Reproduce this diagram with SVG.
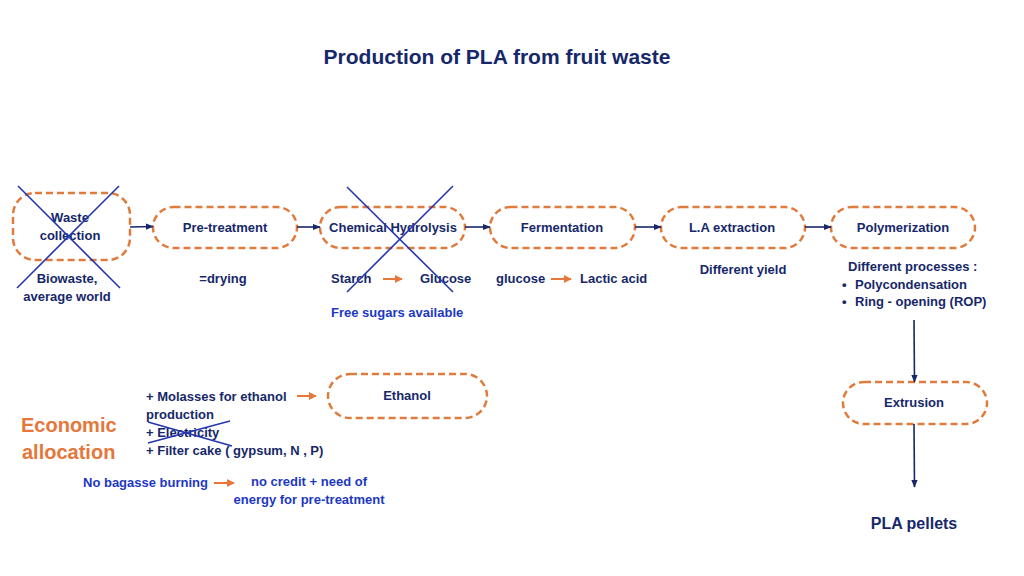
<svg xmlns="http://www.w3.org/2000/svg" width="1024" height="576" viewBox="0 0 1024 576">
<style>
text{font-family:"Liberation Sans",Arial,sans-serif;font-weight:bold;fill:#16286a;font-size:13px}
.c{text-anchor:middle}
.blue{fill:#1d38c2}
.or{fill:#e5773a;font-size:20px}
.node rect{fill:none;stroke:#e07b3e;stroke-width:2.5;stroke-dasharray:7 4}
.conn line{stroke:#16286a;stroke-width:1.6}
.oa line{stroke:#e8763a;stroke-width:2}
.x line{stroke:#2536ae;stroke-width:1.6}
</style>
<defs>
<marker id="ah" viewBox="0 0 10 10" refX="9" refY="5" markerWidth="5" markerHeight="5" orient="auto"><path d="M0,1 L10,5 L0,9 z" fill="#16286a"/></marker>
<marker id="oh" viewBox="0 0 10 10" refX="9" refY="5" markerWidth="4" markerHeight="4" orient="auto"><path d="M0,0 L10,5 L0,10 z" fill="#e8763a"/></marker>
</defs>
<rect width="1024" height="576" fill="#fff"/>
<text class="c" x="497" y="64" style="font-size:21px">Production of PLA from fruit waste</text>

<g id="n-waste" class="node"><rect x="13" y="193" width="117" height="67" rx="22"/><text class="c" x="70" y="222">Waste</text><text class="c" x="70" y="240">collection</text></g>
<g id="n-pre" class="node"><rect x="153" y="207" width="144" height="41" rx="20.5"/><text class="c" x="225" y="232">Pre-treatment</text></g>
<g id="n-chem" class="node"><rect x="320" y="207" width="145" height="41" rx="20.5"/><text class="c" x="393" y="232">Chemical Hydrolysis</text></g>
<g id="n-ferm" class="node"><rect x="490" y="207" width="145" height="41" rx="20.5"/><text class="c" x="562" y="232">Fermentation</text></g>
<g id="n-la" class="node"><rect x="661" y="207" width="144" height="41" rx="20.5"/><text class="c" x="732" y="232">L.A extraction</text></g>
<g id="n-poly" class="node"><rect x="831" y="207" width="144" height="41" rx="20.5"/><text class="c" x="903" y="232">Polymerization</text></g>
<g id="n-eth" class="node"><rect x="328" y="374" width="159" height="44" rx="22"/><text class="c" x="407" y="400">Ethanol</text></g>
<g id="n-ext" class="node"><rect x="843" y="382" width="144" height="42" rx="21"/><text class="c" x="914" y="407">Extrusion</text></g>

<g id="connectors" class="conn">
<line x1="130" y1="227" x2="153" y2="226.5" marker-end="url(#ah)"/>
<line x1="297" y1="227" x2="320" y2="227" marker-end="url(#ah)"/>
<line x1="465" y1="227" x2="490" y2="227" marker-end="url(#ah)"/>
<line x1="635" y1="227" x2="661" y2="227" marker-end="url(#ah)"/>
<line x1="805" y1="227" x2="831" y2="227" marker-end="url(#ah)"/>
<line x1="914" y1="320" x2="914.5" y2="382" marker-end="url(#ah)"/>
<line x1="914" y1="424" x2="914.5" y2="487" marker-end="url(#ah)"/>
</g>

<g class="oa">
<line x1="383" y1="279" x2="402" y2="279" marker-end="url(#oh)"/>
<line x1="551" y1="279" x2="571" y2="279" marker-end="url(#oh)"/>
<line x1="297" y1="396" x2="316" y2="396" marker-end="url(#oh)"/>
<line x1="214" y1="483" x2="234" y2="483" marker-end="url(#oh)"/>
</g>

<text class="c" x="67" y="283">Biowaste,</text>
<text class="c" x="67" y="301">average world</text>
<text class="c" x="223" y="283">=drying</text>
<text x="331" y="283">Starch</text>
<text x="420" y="283">Glucose</text>
<text class="blue" x="331" y="317">Free sugars available</text>
<text x="496" y="283">glucose</text>
<text x="580" y="283">Lactic acid</text>
<text class="c" x="743" y="274">Different yield</text>
<text x="848" y="271">Different processes :</text>
<text x="842" y="289">•</text><text x="855" y="289">Polycondensation</text>
<text x="842" y="306">•</text><text x="855" y="306">Ring - opening (ROP)</text>

<text class="or" x="21" y="432">Economic</text>
<text class="or" x="22" y="459">allocation</text>
<text x="146" y="401">+ Molasses for ethanol</text>
<text x="146" y="419">production</text>
<text x="146" y="437">+ Electricity</text>
<text x="146" y="455">+ Filter cake ( gypsum, N , P)</text>
<text class="blue" x="83" y="487">No bagasse burning</text>
<text class="blue c" x="309" y="486">no credit + need of</text>
<text class="blue c" x="309" y="504">energy for pre-treatment</text>
<text class="c" x="914" y="529" style="font-size:16px">PLA pellets</text>

<g class="x">
<line x1="18" y1="186" x2="120" y2="288"/>
<line x1="119" y1="186" x2="17" y2="288"/>
<line x1="347" y1="187" x2="453" y2="292"/>
<line x1="453" y1="186" x2="347" y2="292"/>
<line x1="148" y1="422" x2="232" y2="446"/>
<line x1="148" y1="443" x2="230" y2="421"/>
</g>
</svg>
